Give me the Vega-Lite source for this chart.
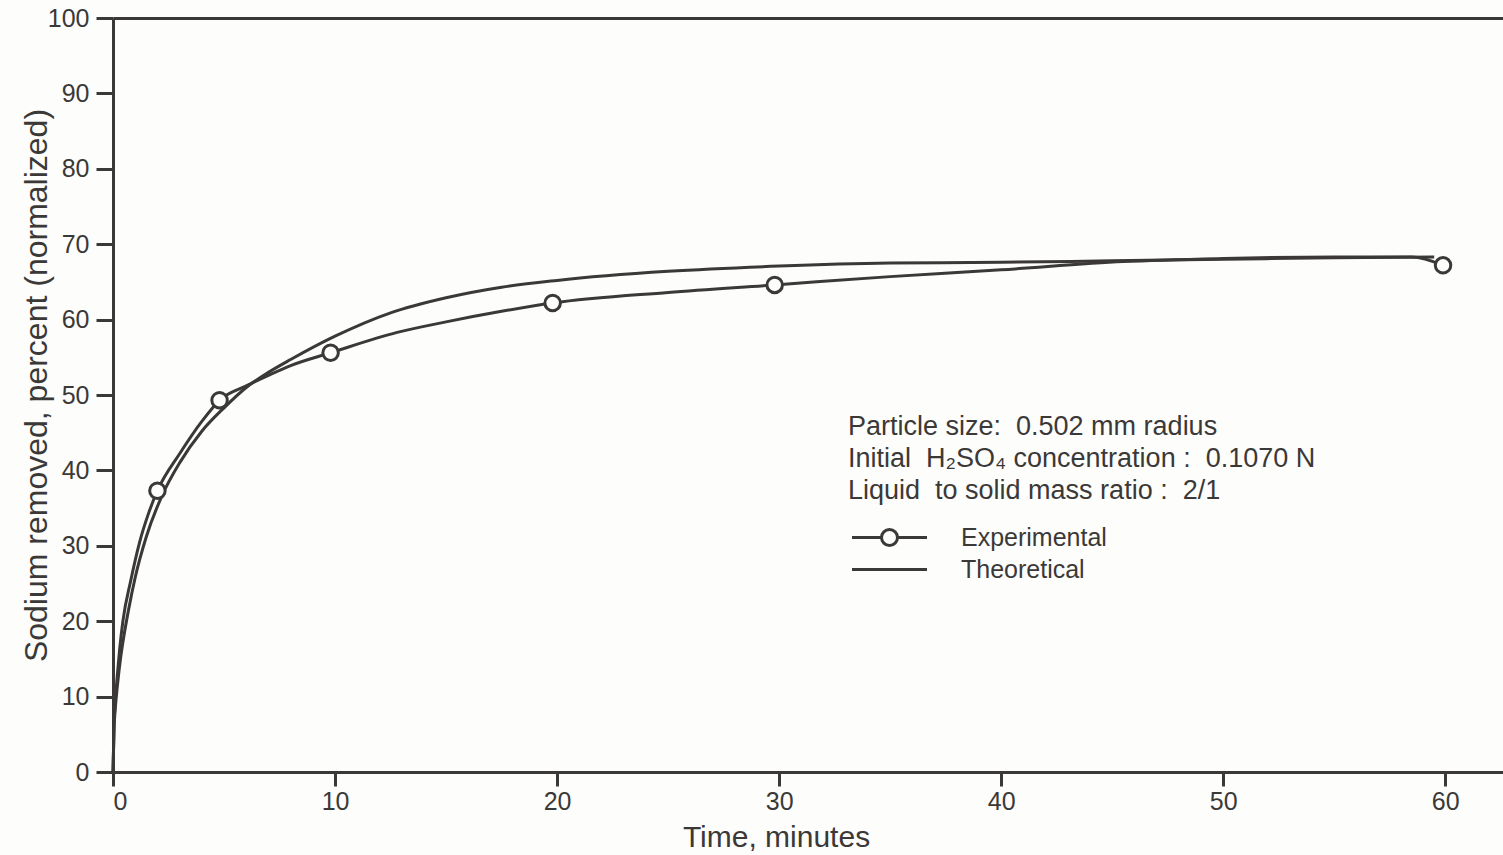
{
  "$schema": "https://vega.github.io/schema/vega-lite/v6.json",
  "width": 1390,
  "height": 754,
  "autosize": {"type": "none"},
  "padding": {"left": 113, "top": 18, "right": 0, "bottom": 83},
  "background": "#fdfdfc",
  "config": {
    "view": {"stroke": null},
    "font": "Liberation Sans",
    "axis": {
      "domainColor": "#3b3937",
      "domainWidth": 3,
      "tickColor": "#3b3937",
      "tickWidth": 3,
      "labelColor": "#3b3937",
      "titleColor": "#3b3937",
      "grid": false,
      "labelFontSize": 25,
      "titleFontSize": 29,
      "titleFontWeight": "normal"
    }
  },
  "datasets": {
    "curves": [
      {"series": "Theoretical", "time": 0, "percent": 0},
      {"series": "Theoretical", "time": 0.05, "percent": 6},
      {"series": "Theoretical", "time": 0.1, "percent": 8.3},
      {"series": "Theoretical", "time": 0.2, "percent": 11.5},
      {"series": "Theoretical", "time": 0.35, "percent": 15.3},
      {"series": "Theoretical", "time": 0.5, "percent": 18.2},
      {"series": "Theoretical", "time": 0.7, "percent": 21.5},
      {"series": "Theoretical", "time": 1.0, "percent": 25.8},
      {"series": "Theoretical", "time": 1.5, "percent": 31.2},
      {"series": "Theoretical", "time": 2.2, "percent": 36.6},
      {"series": "Theoretical", "time": 3, "percent": 41.0},
      {"series": "Theoretical", "time": 4, "percent": 45.2},
      {"series": "Theoretical", "time": 5, "percent": 48.3},
      {"series": "Theoretical", "time": 6, "percent": 51.0},
      {"series": "Theoretical", "time": 7, "percent": 53.0},
      {"series": "Theoretical", "time": 8, "percent": 54.7},
      {"series": "Theoretical", "time": 10, "percent": 57.8},
      {"series": "Theoretical", "time": 12.5, "percent": 60.9},
      {"series": "Theoretical", "time": 15, "percent": 62.9},
      {"series": "Theoretical", "time": 17.5, "percent": 64.3},
      {"series": "Theoretical", "time": 20, "percent": 65.2},
      {"series": "Theoretical", "time": 25, "percent": 66.4},
      {"series": "Theoretical", "time": 30, "percent": 67.1},
      {"series": "Theoretical", "time": 35, "percent": 67.5},
      {"series": "Theoretical", "time": 40, "percent": 67.6},
      {"series": "Theoretical", "time": 45, "percent": 67.8},
      {"series": "Theoretical", "time": 50, "percent": 68.0},
      {"series": "Theoretical", "time": 55, "percent": 68.2},
      {"series": "Theoretical", "time": 59.5, "percent": 68.3},
      {"series": "Experimental", "time": 0, "percent": 0},
      {"series": "Experimental", "time": 0.05, "percent": 6.5},
      {"series": "Experimental", "time": 0.1, "percent": 9.2},
      {"series": "Experimental", "time": 0.2, "percent": 13},
      {"series": "Experimental", "time": 0.3, "percent": 16.3},
      {"series": "Experimental", "time": 0.45, "percent": 20.1},
      {"series": "Experimental", "time": 0.8, "percent": 25.4},
      {"series": "Experimental", "time": 1.2, "percent": 30.5},
      {"series": "Experimental", "time": 1.6, "percent": 34.3},
      {"series": "Experimental", "time": 2, "percent": 37.3},
      {"series": "Experimental", "time": 3, "percent": 42.2},
      {"series": "Experimental", "time": 4, "percent": 46.5},
      {"series": "Experimental", "time": 4.8, "percent": 49.3},
      {"series": "Experimental", "time": 6, "percent": 51.2},
      {"series": "Experimental", "time": 7, "percent": 52.6},
      {"series": "Experimental", "time": 8, "percent": 53.9},
      {"series": "Experimental", "time": 9.8, "percent": 55.6},
      {"series": "Experimental", "time": 12.8, "percent": 58.3},
      {"series": "Experimental", "time": 15, "percent": 59.7},
      {"series": "Experimental", "time": 17.5, "percent": 61.1},
      {"series": "Experimental", "time": 19.8, "percent": 62.2},
      {"series": "Experimental", "time": 25, "percent": 63.6},
      {"series": "Experimental", "time": 29.8, "percent": 64.6},
      {"series": "Experimental", "time": 35, "percent": 65.7},
      {"series": "Experimental", "time": 40, "percent": 66.6},
      {"series": "Experimental", "time": 45.5, "percent": 67.7},
      {"series": "Experimental", "time": 50, "percent": 68.1},
      {"series": "Experimental", "time": 55, "percent": 68.3},
      {"series": "Experimental", "time": 58.5, "percent": 68.3},
      {"series": "Experimental", "time": 59.9, "percent": 67.2}
    ],
    "points": [
      {"time": 2, "percent": 37.3},
      {"time": 4.8, "percent": 49.3},
      {"time": 9.8, "percent": 55.6},
      {"time": 19.8, "percent": 62.2},
      {"time": 29.8, "percent": 64.6},
      {"time": 59.9, "percent": 67.2}
    ]
  },
  "layer": [
    {
      "data": {"name": "curves"},
      "mark": {"type": "line", "interpolate": "monotone", "strokeWidth": 3},
      "encoding": {
        "x": {
          "field": "time",
          "type": "quantitative",
          "scale": {"domain": [0, 62.6], "nice": false},
          "axis": {
            "values": [0, 10, 20, 30, 40, 50, 60],
            "title": "Time, minutes",
            "titleFontSize": 30,
            "tickSize": 14,
            "labelPadding": 3,
            "titleX": 663,
            "titleY": 74,
            "titleBaseline": "alphabetic",
            "titleAlign": "center"
          }
        },
        "y": {
          "field": "percent",
          "type": "quantitative",
          "scale": {"domain": [0, 100], "nice": false},
          "axis": {
            "values": [0, 10, 20, 30, 40, 50, 60, 70, 80, 90, 100],
            "title": "Sodium removed, percent (normalized)",
            "titleFontSize": 32,
            "tickSize": 17,
            "labelPadding": 7,
            "titleX": -67,
            "titleY": 367,
            "titleBaseline": "alphabetic",
            "titleAlign": "center",
            "titleAngle": -90
          }
        },
        "color": {
          "field": "series",
          "type": "nominal",
          "scale": {"domain": ["Experimental", "Theoretical"], "range": ["#3b3937", "#3b3937"]},
          "legend": {
            "orient": "none",
            "legendX": 735,
            "legendY": 396,
            "padding": 0,
            "title": ["Particle size:\u00a0 0.502 mm radius", "Initial\u00a0 H₂SO₄ concentration :\u00a0 0.1070 N", "Liquid\u00a0 to solid mass ratio :\u00a0 2/1"],
            "titleFontSize": 27,
            "titleFontWeight": "normal",
            "titleColor": "#3b3937",
            "titleLineHeight": 32,
            "titlePadding": 20,
            "titleLimit": 800,
            "labelFontSize": 25,
            "labelColor": "#3b3937",
            "labelOffset": 59,
            "labelLimit": 400,
            "symbolSize": 400,
            "symbolStrokeWidth": 3,
            "symbolStrokeColor": "#3b3937",
            "symbolFillColor": "#fdfdfc",
            "symbolOffset": 29,
            "rowPadding": 5,
            "encode": {
              "symbols": {
                "update": {
                  "shape": {"signal": "datum.value === 'Experimental' ? 'M-3.75,0H-0.8M0.8,0H3.75M-0.8,0A0.8,0.8 0 1,1 0.8,0A0.8,0.8 0 1,1 -0.8,0Z' : 'M-3.75,0H3.75'"},
                  "strokeWidth": {"value": 3},
                  "stroke": {"value": "#3b3937"}
                }
              }
            }
          }
        }
      }
    },
    {
      "data": {"name": "points"},
      "mark": {"type": "point", "shape": "circle", "filled": true, "fill": "#fdfdfc", "stroke": "#3b3937", "strokeWidth": 3, "size": 240, "opacity": 1},
      "encoding": {
        "x": {
          "field": "time",
          "type": "quantitative",
          "axis": {"orient": "top", "labels": false, "ticks": false, "title": null, "domain": true}
        },
        "y": {"field": "percent", "type": "quantitative"}
      }
    }
  ],
  "resolve": {"axis": {"x": "independent"}}
}
